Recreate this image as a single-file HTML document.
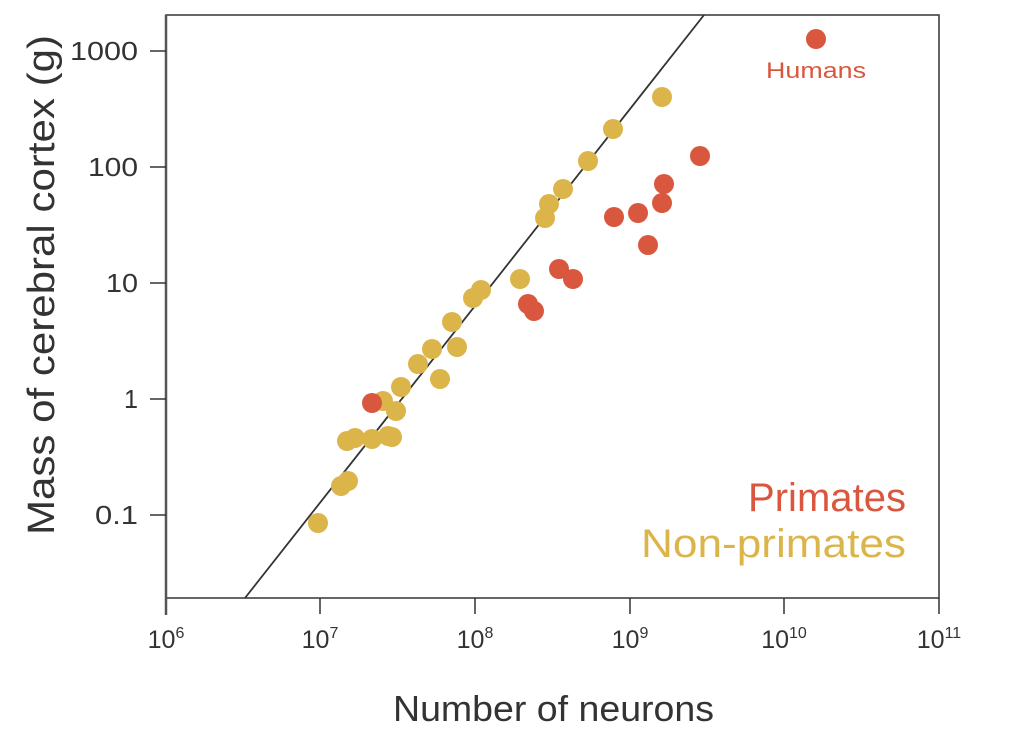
<!DOCTYPE html>
<html><head><style>body{margin:0;background:#fff}svg{display:block}text{font-family:"Liberation Sans",sans-serif;fill:#333}</style></head><body>
<svg width="1024" height="742" viewBox="0 0 1024 742">
<rect width="1024" height="742" fill="#fff"/>
<rect x="166" y="15" width="773" height="583" fill="none" stroke="#333" stroke-width="1.5"/>
<line x1="166" y1="15" x2="166" y2="615" stroke="#555" stroke-width="2.5"/>
<g stroke="#333" stroke-width="1.5">
<line x1="320" y1="598" x2="320" y2="614"/><line x1="475" y1="598" x2="475" y2="614"/><line x1="630" y1="598" x2="630" y2="614"/><line x1="784" y1="598" x2="784" y2="614"/><line x1="939" y1="598" x2="939" y2="614"/>
<line x1="150" y1="51" x2="166" y2="51"/><line x1="150" y1="167" x2="166" y2="167"/><line x1="150" y1="283" x2="166" y2="283"/><line x1="150" y1="399" x2="166" y2="399"/><line x1="150" y1="515" x2="166" y2="515"/>
</g>
<line x1="245" y1="598" x2="704" y2="15" stroke="#333" stroke-width="1.8"/>
<g font-size="25" text-anchor="middle">
<text x="166" y="648">10<tspan font-size="16" dy="-10">6</tspan></text>
<text x="320" y="648">10<tspan font-size="16" dy="-10">7</tspan></text>
<text x="475" y="648">10<tspan font-size="16" dy="-10">8</tspan></text>
<text x="630" y="648">10<tspan font-size="16" dy="-10">9</tspan></text>
<text x="784" y="648">10<tspan font-size="16" dy="-10">10</tspan></text>
<text x="939" y="648">10<tspan font-size="16" dy="-10">11</tspan></text>
</g>
<g font-size="26">
<text x="70" y="60" textLength="68" lengthAdjust="spacingAndGlyphs">1000</text>
<text x="88" y="176" textLength="50" lengthAdjust="spacingAndGlyphs">100</text>
<text x="106" y="292" textLength="32" lengthAdjust="spacingAndGlyphs">10</text>
<text x="124" y="408" textLength="14" lengthAdjust="spacingAndGlyphs">1</text>
<text x="95" y="524" textLength="43" lengthAdjust="spacingAndGlyphs">0.1</text>
</g>
<text x="393" y="721" font-size="36" textLength="321" lengthAdjust="spacingAndGlyphs">Number of neurons</text>
<text transform="translate(54,535) rotate(-90)" font-size="38" textLength="500" lengthAdjust="spacingAndGlyphs">Mass of cerebral cortex (g)</text>
<g fill="#dcb54a">
<circle cx="318" cy="523" r="10"/><circle cx="341" cy="486" r="10"/><circle cx="348" cy="481" r="10"/><circle cx="347" cy="441" r="10"/><circle cx="355" cy="438" r="10"/><circle cx="372" cy="439" r="10"/><circle cx="383" cy="401" r="10"/><circle cx="388" cy="436" r="10"/><circle cx="392" cy="437" r="10"/><circle cx="396" cy="411" r="10"/><circle cx="401" cy="387" r="10"/><circle cx="418" cy="364" r="10"/><circle cx="432" cy="349" r="10"/><circle cx="440" cy="379" r="10"/><circle cx="452" cy="322" r="10"/><circle cx="457" cy="347" r="10"/><circle cx="473" cy="298" r="10"/><circle cx="481" cy="290" r="10"/><circle cx="520" cy="279" r="10"/><circle cx="545" cy="218" r="10"/><circle cx="549" cy="204" r="10"/><circle cx="563" cy="189" r="10"/><circle cx="588" cy="161" r="10"/><circle cx="613" cy="129" r="10"/><circle cx="662" cy="97" r="10"/>
</g>
<g fill="#d9573f">
<circle cx="372" cy="403" r="10"/><circle cx="528" cy="304" r="10"/><circle cx="534" cy="311" r="10"/><circle cx="559" cy="269" r="10"/><circle cx="573" cy="279" r="10"/><circle cx="614" cy="217" r="10"/><circle cx="638" cy="213" r="10"/><circle cx="648" cy="245" r="10"/><circle cx="662" cy="203" r="10"/><circle cx="664" cy="184" r="10"/><circle cx="700" cy="156" r="10"/><circle cx="816" cy="39" r="10"/>
</g>
<text x="766" y="78" font-size="22" textLength="100" lengthAdjust="spacingAndGlyphs" style="fill:#d9573f">Humans</text>
<text x="748" y="511" font-size="40" textLength="158" lengthAdjust="spacingAndGlyphs" style="fill:#d9573f">Primates</text>
<text x="641" y="557" font-size="40" textLength="265" lengthAdjust="spacingAndGlyphs" style="fill:#dcb54a">Non-primates</text>
</svg>
</body></html>
